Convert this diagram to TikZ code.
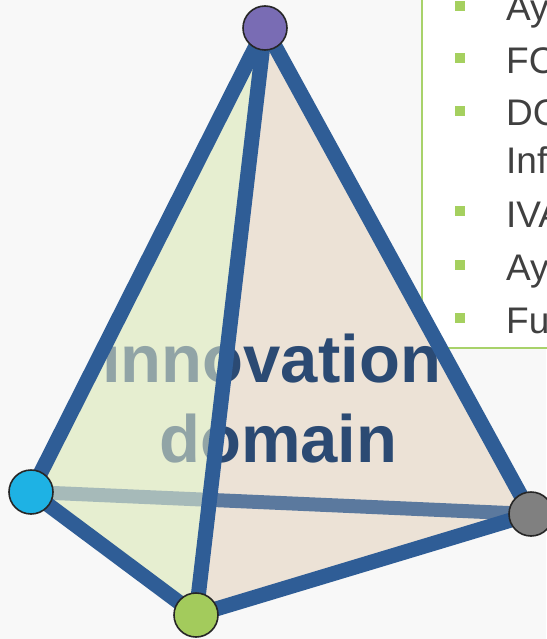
\documentclass[tikz,border=0pt]{standalone}
\usepackage{fontspec}
\setmainfont{Liberation Sans}
\definecolor{bggray}{RGB}{248,248,248}
\definecolor{edgeblue}{RGB}{47,93,150}
\definecolor{leftface}{RGB}{230,238,208}
\definecolor{rightface}{RGB}{236,226,214}
\definecolor{textblue}{RGB}{43,74,115}
\definecolor{hiddenblue}{RGB}{55,95,145}
\definecolor{boxgreen}{RGB}{168,210,106}
\definecolor{bulgreen}{RGB}{165,208,95}
\definecolor{itemgray}{RGB}{64,64,64}
\definecolor{vborder}{RGB}{38,38,38}
\definecolor{vpurple}{RGB}{121,108,180}
\definecolor{vcyan}{RGB}{30,178,228}
\definecolor{vgreen}{RGB}{163,203,92}
\definecolor{vgray}{RGB}{128,128,128}
\begin{document}
\begin{tikzpicture}[x=1pt,y=-1pt,
  edge/.style={line width=15pt, color=edgeblue, line cap=round},
  hiddenedge/.style={line width=14pt, color=hiddenblue, opacity=0.8},
  vtx/.style={circle, draw=vborder, line width=1.6pt, minimum size=44pt, inner sep=0pt},
  bul/.style={fill=bulgreen, minimum size=10pt, inner sep=0pt, rectangle},
  item/.style={anchor=base west, text=itemgray, font=\fontsize{37}{37}\selectfont, inner sep=0pt},
  bigtext/.style={anchor=base west, text=textblue, inner sep=0pt, font=\bfseries\fontsize{67}{67}\selectfont}]
\useasboundingbox (0,0) rectangle (546,639);
\fill[bggray] (0,0) rectangle (546,639);
% text box
\draw[boxgreen, line width=2pt, fill=white] (422,-10) rectangle (580,348);
\node[item] (i1) at (506,21) {Ay};
\node[item] (i2) at (506,74) {FC};
\node[item] (i3) at (506,126) {DC};
\node[item] (i3b) at (506,173) {Inf};
\node[item] (i4) at (506,227) {IVA};
\node[item] (i5) at (506,280) {Ay};
\node[item] (i6) at (506,333) {Fu};
\node[bul] (b1) at (460,6) {};
\node[bul] (b2) at (460,58) {};
\node[bul] (b3) at (460,111) {};
\node[bul] (b4) at (460,211) {};
\node[bul] (b5) at (460,265) {};
\node[bul] (b6) at (460,318) {};
% vertices
\coordinate (p) at (265,28);
\coordinate (c) at (31,492);
\coordinate (g) at (196,615);
\coordinate (r) at (531,514);
% faces
\fill[rightface] (p) -- (g) -- (r) -- cycle;
\fill[leftface] (p) -- (c) -- (g) -- cycle;
\begin{scope}
  \clip (p) -- (c) -- (g) -- (r) -- cycle;
  \node[bigtext] (t1) at (102,382) {innovation};
  \node[bigtext] (t2) at (159,462) {domain};
  \draw[hiddenedge] (c) -- (r);
\end{scope}
\fill[leftface, opacity=0.55] (p) -- (c) -- (g) -- cycle;
% edges
\draw[edge] (p) -- (c);
\draw[edge] (p) -- (g);
\draw[edge] (p) -- (r);
\draw[edge] (c) -- (g);
\draw[edge] (g) -- (r);
% vertex circles
\node[vtx, fill=vpurple] (P) at (p) {};
\node[vtx, fill=vcyan] (C) at (c) {};
\node[vtx, fill=vgreen] (G) at (g) {};
\node[vtx, fill=vgray] (R) at (r) {};
\end{tikzpicture}
\end{document}
